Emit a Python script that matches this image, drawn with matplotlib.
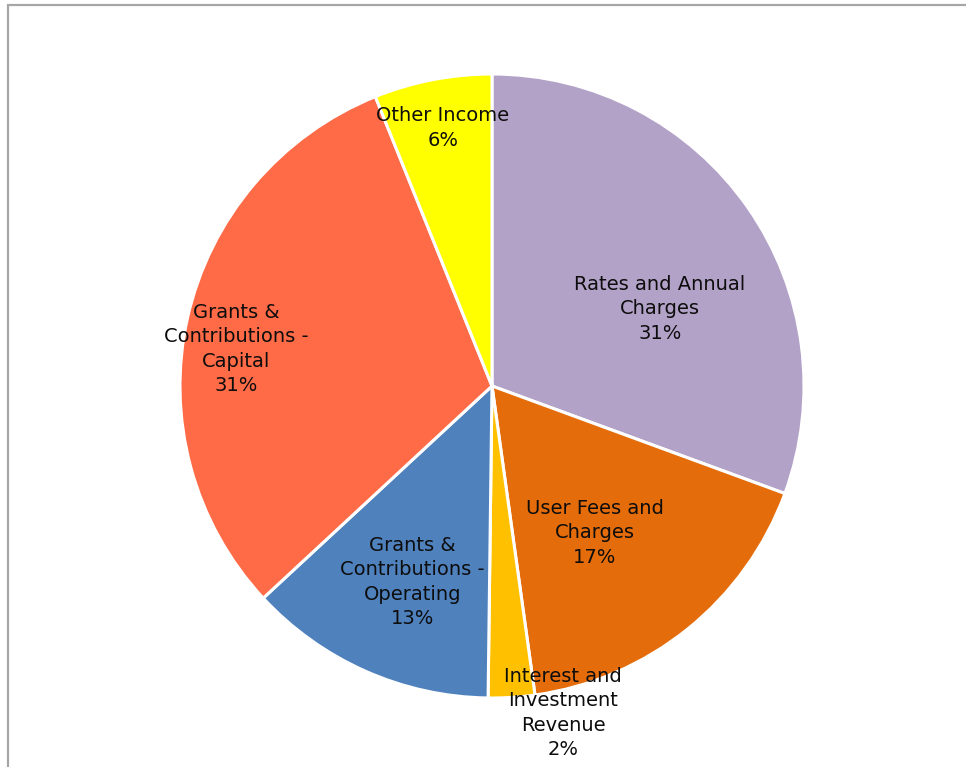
import matplotlib.pyplot as plt
from matplotlib.patches import Rectangle

# Revenue shares (percent)
categories = [
    "Rates and Annual\nCharges",
    "User Fees and\nCharges",
    "Interest and\nInvestment\nRevenue",
    "Grants &\nContributions -\nOperating",
    "Grants &\nContributions -\nCapital",
    "Other Income",
]
values = [30.6, 17.2, 2.4, 12.9, 30.8, 6.1]
percent_labels = ["31%", "17%", "2%", "13%", "31%", "6%"]

colors = ["#B3A2C7", "#E46C0A", "#FFC000", "#4F81BD", "#FF6B47", "#FFFF00"]
# label positions in pie units (radius = 1)
label_pos = [(0.538, 0.247), (0.33, -0.471), (0.228, -1.048),
             (-0.256, -0.628), (-0.82, 0.119), (-0.157, 0.827)]

W, H = 966, 767
fig = plt.figure(figsize=(W / 100, H / 100), dpi=100)

cx, cy, r = 492, 386, 312
ax = fig.add_axes([(cx - r) / W, (H - cy - r) / H, 2 * r / W, 2 * r / H])

ax.pie(values, colors=colors, startangle=90, counterclock=False, radius=1,
       wedgeprops=dict(edgecolor="white", linewidth=2.2))
ax.set_xlim(-1, 1)
ax.set_ylim(-1, 1)
ax.axis("off")

for name, pct, (x, y) in zip(categories, percent_labels, label_pos):
    ax.text(x, y, name + "\n" + pct, ha="center", va="center", fontsize=14,
            family="DejaVu Sans", color="#0d0d0d", linespacing=1.36,
            clip_on=False)

# outer chart frame
frame = Rectangle((8 / W, -0.05), 1.1, 1 - 5 / H + 0.05, transform=fig.transFigure,
                  fill=False, edgecolor="#a6a6a6", linewidth=1.6, clip_on=False)
fig.patches.append(frame)

fig.savefig("out.png", dpi=100, facecolor="white")
